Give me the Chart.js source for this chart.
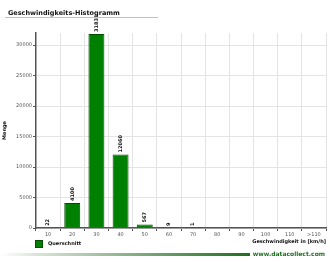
<!DOCTYPE html>
<html>
<head>
<meta charset="utf-8">
<script src="https://cdn.jsdelivr.net/npm/chart.js@4/dist/chart.umd.min.js"></script>
<style>
  html, body { margin: 0; padding: 0; background: #fff; }
  #wrap { position: relative; width: 330px; height: 262px; overflow: hidden; font-family: "DejaVu Sans", sans-serif; }
  #chart { position: absolute; left: 0; top: 0; }
  #title { position: absolute; left: 8px; top: 9px; font-size: 6.5px; font-weight: bold; color: #111; }
  #rule { position: absolute; left: 5px; top: 17px; width: 153px; height: 1px; background: #a9c9e2; }
  #legend { position: absolute; left: 35px; top: 240px; font-size: 5px; font-weight: bold; color: #111; }
  #legend span.box { display: inline-block; width: 6px; height: 6px; background: #008000; border: 1px solid #004d00; vertical-align: middle; margin-right: 5px; }
  #bar { position: absolute; left: 0; top: 253px; width: 250px; height: 3px; background: linear-gradient(to right, #ffffff, #d8e4d8 15%, #1e6e1e); }
  #site { position: absolute; right: 5px; top: 250px; font-size: 6px; font-weight: bold; color: #1e6e1e; }
</style>
</head>
<body>
<div id="wrap">
  <canvas id="chart" width="330" height="262"></canvas>
  <div id="title">Geschwindigkeits-Histogramm</div>
  <div id="rule"></div>
  <div id="legend"><span class="box"></span>Querschnitt</div>
  <div id="bar"></div>
  <div id="site">www.datacollect.com</div>
</div>
<script>
const categories = ["10", "20", "30", "40", "50", "60", "70", "80", "90", "100", "110", ">110"];
const counts = [22, 4100, 31831, 12060, 567, 9, 1, 0, 0, 0, 0, 0];
const yTicks = [0, 5000, 10000, 15000, 20000, 25000, 30000];

const barLabels = {
    id: "barLabels",
    afterDatasetsDraw(chart) {
        const ctx = chart.ctx;
        const meta = chart.getDatasetMeta(0);
        ctx.save();
        ctx.font = "bold 5px 'DejaVu Sans'";
        ctx.fillStyle = "#111";
        ctx.textAlign = "left";
        ctx.textBaseline = "middle";
        meta.data.forEach((bar, i) => {
            if (!counts[i]) return;
            ctx.save();
            ctx.translate(bar.x, bar.y - 2);
            ctx.rotate(-Math.PI / 2);
            ctx.fillText(String(counts[i]), 0, 0);
            ctx.restore();
        });
        ctx.restore();
    }
};

new Chart(document.getElementById("chart"), {
    type: "bar",
    data: {
        labels: categories,
        datasets: [{
            label: "Querschnitt",
            data: counts,
            backgroundColor: "#008000",
            borderColor: "#004d00",
            borderWidth: 1,
            barPercentage: 0.66,
            categoryPercentage: 1
        }]
    },
    options: {
        responsive: false,
        animation: false,
        layout: { padding: { top: 33, right: 4, bottom: 17, left: 2 } },
        plugins: {
            legend: { display: false },
            tooltip: { enabled: false }
        },
        scales: {
            x: {
                afterFit: (s) => { s.height = 17; },
                grid: { offset: true, color: "#e4e4e4", tickColor: "#555", tickLength: 3 },
                border: { color: "#555", width: 1.5 },
                ticks: { color: "#555", font: { size: 5, family: "DejaVu Sans" }, padding: 1, maxRotation: 0, autoSkip: false },
                title: {
                    display: true, align: "end", text: "Geschwindigkeit in [km/h]",
                    color: "#111", font: { size: 5, weight: "bold", family: "DejaVu Sans" }, padding: 0
                }
            },
            y: {
                min: 0,
                max: 32000,
                afterFit: (s) => { s.width = 34; },
                afterBuildTicks: (s) => { s.ticks = yTicks.map(v => ({ value: v })); },
                grid: { color: "#e4e4e4", tickColor: "#555", tickLength: 3 },
                border: { color: "#555", width: 1.5 },
                ticks: { color: "#555", font: { size: 5, family: "DejaVu Sans" }, padding: 1, callback: (v) => String(v) },
                title: {
                    display: true, text: "Menge",
                    color: "#111", font: { size: 5, weight: "bold", family: "DejaVu Sans" }, padding: 0
                }
            }
        }
    },
    plugins: [barLabels]
});
</script>
</body>
</html>
